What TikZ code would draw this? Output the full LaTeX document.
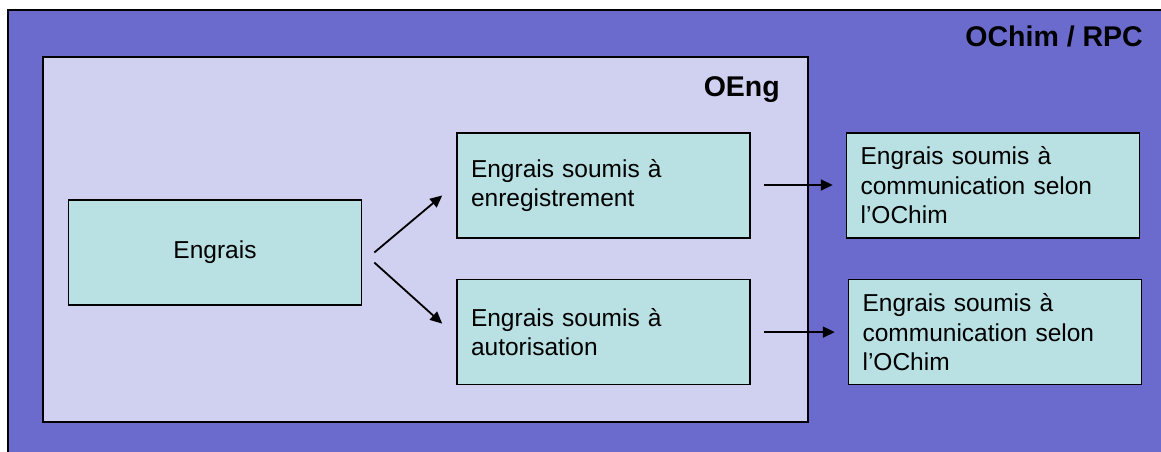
\documentclass[tikz,border=0pt]{standalone}
\usepackage{fontspec}
\setmainfont{Liberation Sans}
\usetikzlibrary{arrows.meta,positioning}
\definecolor{outerfill}{HTML}{6B6BCD}
\definecolor{innerfill}{HTML}{D0D0F0}
\definecolor{boxfill}{HTML}{B9E0E3}

\begin{document}
\begin{tikzpicture}[x=1pt, y=-1pt, node distance=40pt and 95pt,
      box/.style={draw, line width=1.6pt, fill=boxfill, minimum width=293pt, minimum height=105pt,
        inner xsep=14pt, text width=265pt, align=left, font=\fontsize{24.5}{29.5}\selectfont},
      title/.style={font=\fontsize{28.5}{30}\bfseries, inner sep=0pt},
      arr/.style={-{Triangle[length=12pt,width=11pt]}, line width=1.8pt}]
    \useasboundingbox (0,0) rectangle (1161,451);
    \fill[white] (0,0) rectangle (1161,451);
    \clip (0,0) rectangle (1161,451);
    \draw[line width=2pt, fill=outerfill] (8,10) rectangle (1180,480);
    \draw[line width=2pt, fill=innerfill] (43,57) rectangle (808,422);
    \node[title, anchor=base east] (ochim) at (1143,46) {OChim / RPC};
    \node[title, anchor=base east] (oeng) at (780,96) {OEng};
    \node[box, align=center] (eng) at (215,252.5) {Engrais};
    \node[box] (reg) at (603.5,185.5) {Engrais soumis à\\enregistrement};
    \node[box, below=of reg] (aut) {Engrais soumis à\\autorisation};
    \node[box, right=of reg] (com1) {Engrais soumis à\\communication selon\\l’OChim};
    \node[box, right=97pt of aut] (com2) {Engrais soumis à\\communication selon\\l’OChim};
    \draw[arr] ([xshift=12pt]eng.east) -- ([xshift=-14pt,yshift=-10pt]reg.west);
    \draw[arr] ([xshift=12pt,yshift=-10pt]eng.east) -- ([xshift=-14pt,yshift=8.5pt]aut.west);
    \draw[arr] ([xshift=13pt,yshift=0.5pt]reg.east) -- ([xshift=-13pt,yshift=0.5pt]com1.west);
    \draw[arr] ([xshift=13pt]aut.east) -- ([xshift=-13pt]com2.west);
  \end{tikzpicture}
\end{document}
